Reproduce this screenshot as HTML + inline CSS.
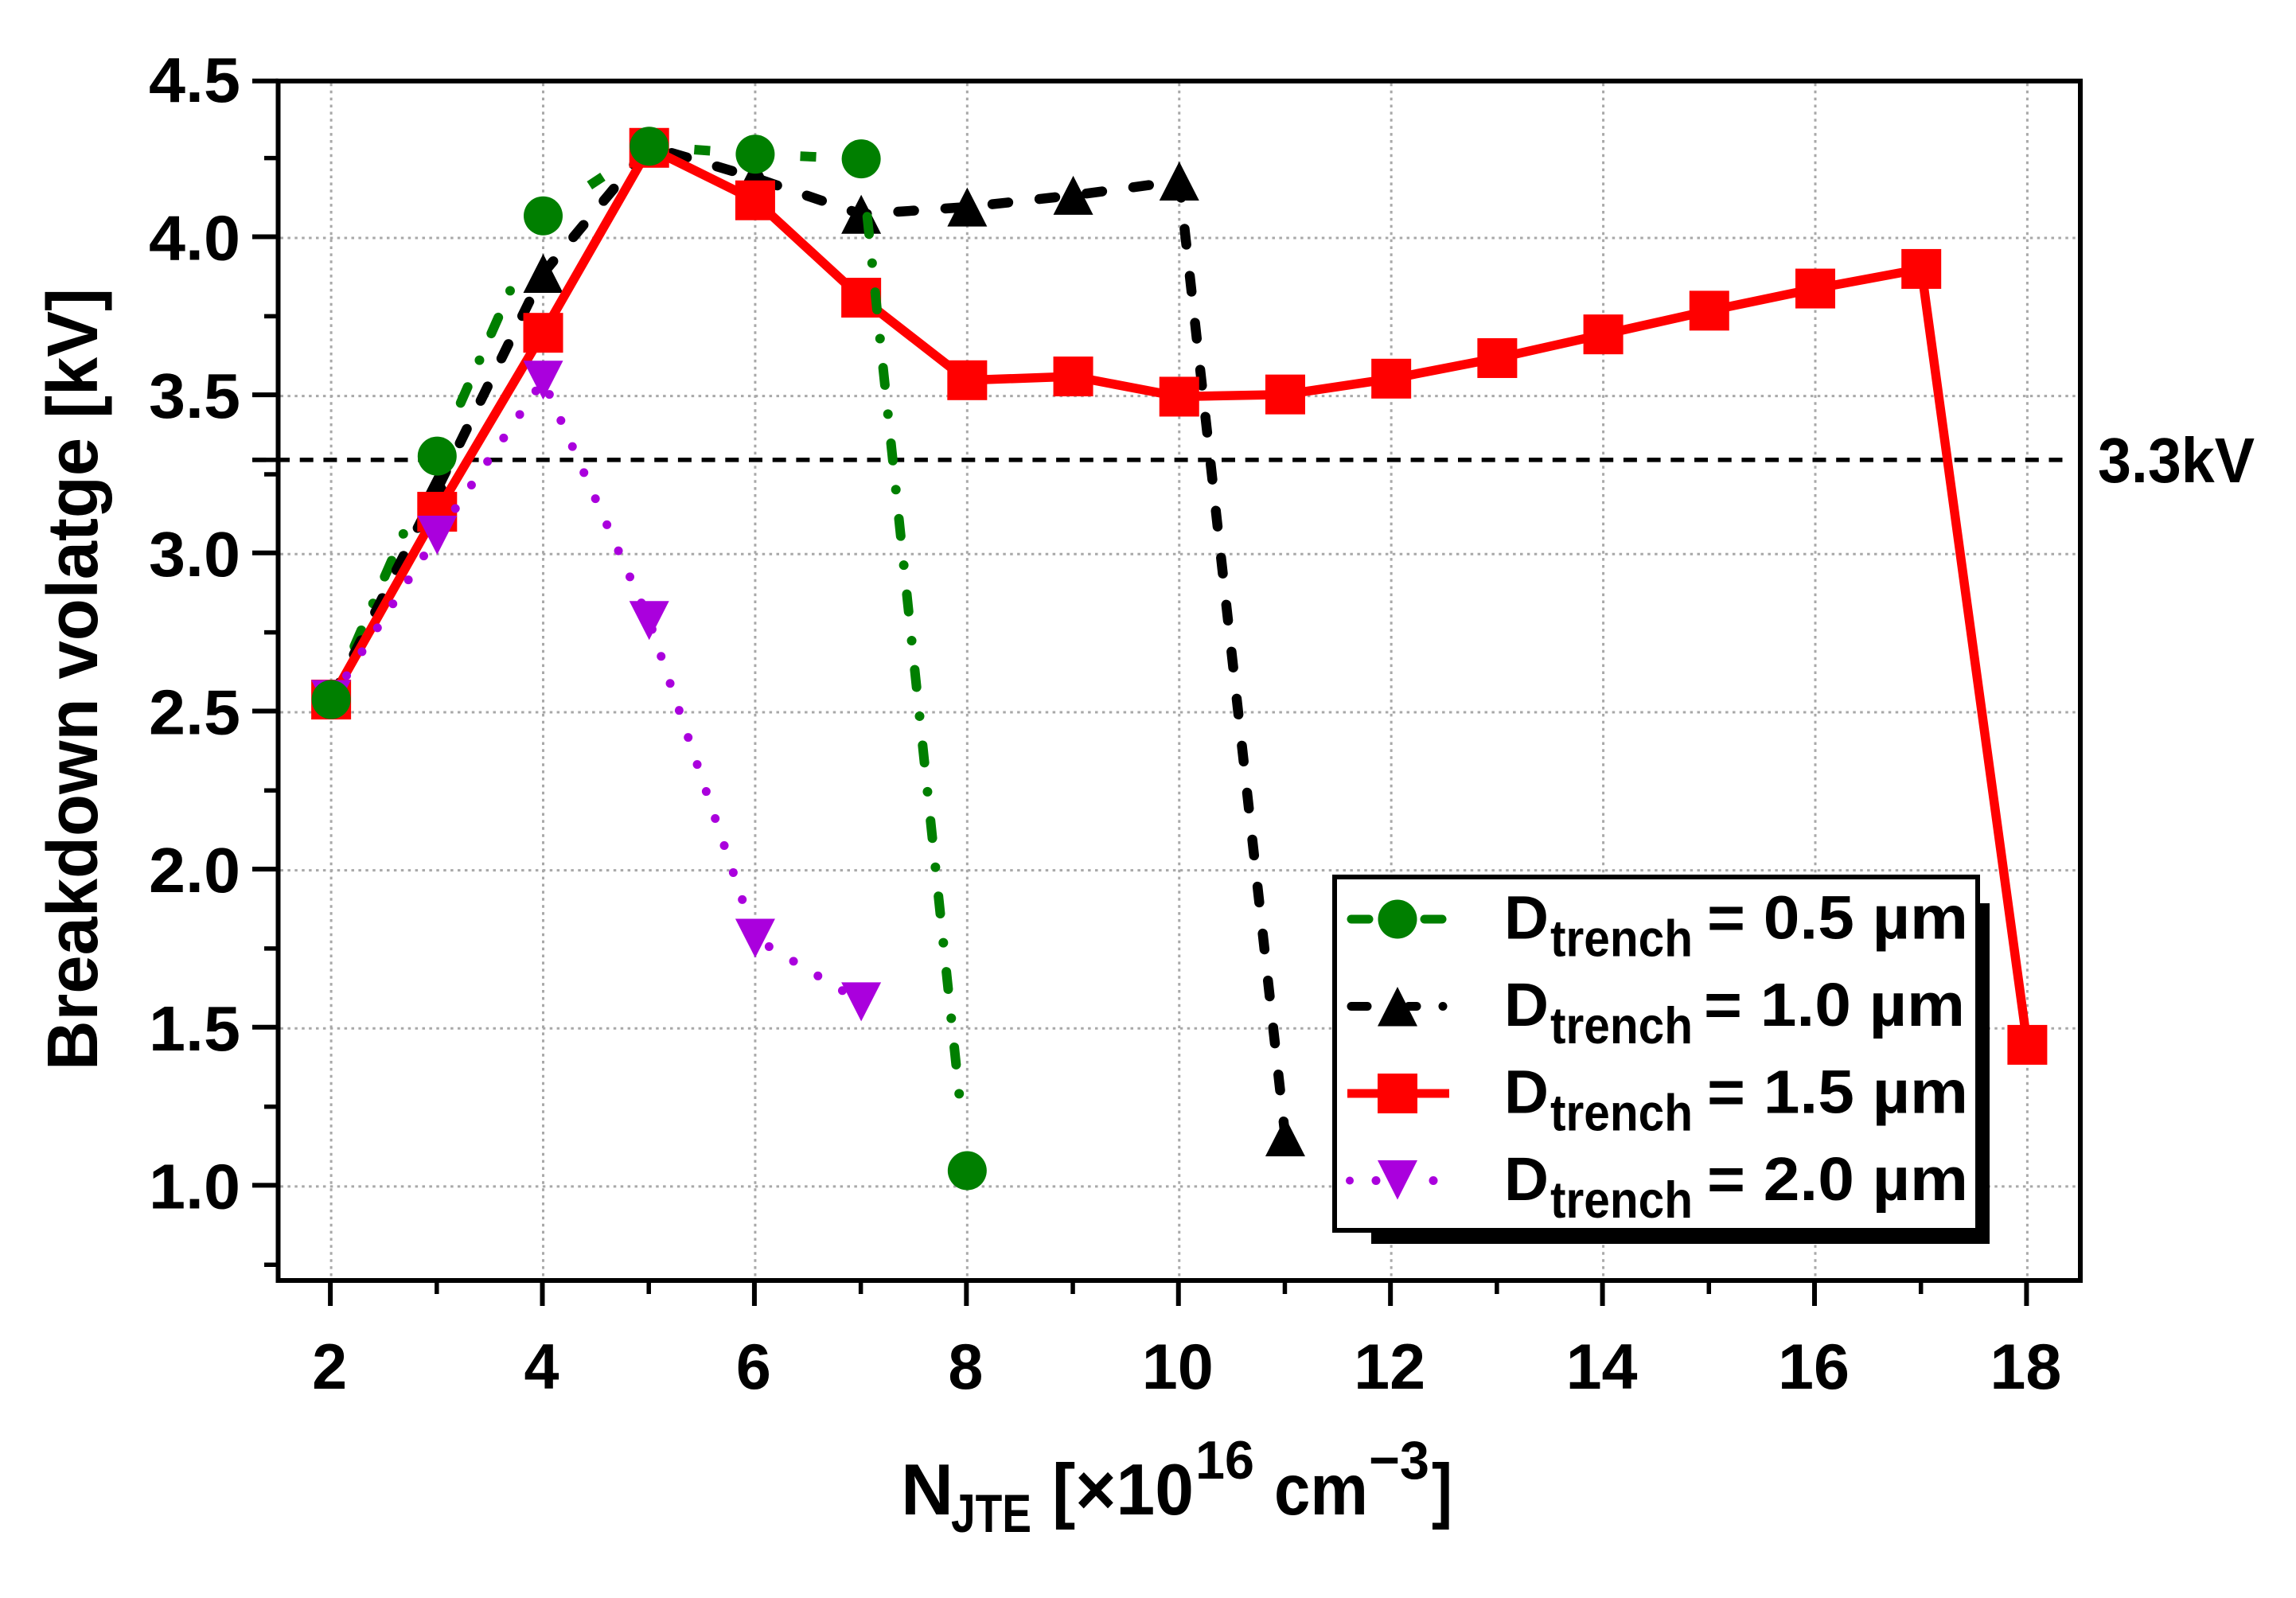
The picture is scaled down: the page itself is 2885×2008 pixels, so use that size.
<!DOCTYPE html>
<html lang="en">
<head>
<meta charset="utf-8">
<title>Breakdown voltage vs NJTE</title>
<style>
html,body{margin:0;padding:0;background:#fff}
svg{display:block}
text{font-family:"Liberation Sans",sans-serif;font-weight:700;fill:#000}
</style>
</head>
<body>
<svg id="chart" xmlns="http://www.w3.org/2000/svg" width="2885" height="2008" viewBox="0 0 2885 2008">
  <rect x="0" y="0" width="2885" height="2008" fill="#fff"/>
  <g id="grid"></g>
  <g id="ref"></g>
  <g id="series"></g>
  <g id="axes"></g>

  <text transform="translate(122,1345) rotate(-90)" x="0" y="0" font-size="90" textLength="983" lengthAdjust="spacingAndGlyphs">Breakdown volatge [kV]</text>

  <g>
    <text x="1132" y="1903" font-size="91" textLength="66" lengthAdjust="spacingAndGlyphs">N</text>
    <text x="1195" y="1925" font-size="68" textLength="101" lengthAdjust="spacingAndGlyphs">JTE</text>
    <text x="1322" y="1903" font-size="91" textLength="178" lengthAdjust="spacingAndGlyphs">[×10</text>
    <text x="1502" y="1858" font-size="68" textLength="74" lengthAdjust="spacingAndGlyphs">16</text>
    <text x="1601" y="1903" font-size="91" textLength="118" lengthAdjust="spacingAndGlyphs">cm</text>
    <text x="1720" y="1858" font-size="68" textLength="76" lengthAdjust="spacingAndGlyphs">−3</text>
    <text x="1799" y="1903" font-size="91" textLength="26" lengthAdjust="spacingAndGlyphs">]</text>
  </g>

  <text x="2636" y="606" font-size="80" textLength="197" lengthAdjust="spacingAndGlyphs">3.3kV</text>

  <g>
    <rect x="1723" y="1135" width="777" height="428" fill="#000"/>
    <rect x="1677" y="1102" width="808" height="444" fill="#fff" stroke="#000" stroke-width="6"/>

    <g>
      <line x1="1698" y1="1155" x2="1720" y2="1155" stroke="#007f00" stroke-width="11" stroke-linecap="round"/>
      <line x1="1790" y1="1155" x2="1812" y2="1155" stroke="#007f00" stroke-width="11" stroke-linecap="round"/>
      <circle cx="1756" cy="1155" r="24.5" fill="#007f00"/>
      <text x="1890" y="1179.5" font-size="77" textLength="56" lengthAdjust="spacingAndGlyphs">D</text>
      <text x="1948" y="1201.5" font-size="65" textLength="179" lengthAdjust="spacingAndGlyphs">trench</text>
      <text x="2145" y="1179.5" font-size="77" textLength="328" lengthAdjust="spacingAndGlyphs">= 0.5 µm</text>
    </g>

    <g>
      <line x1="1698" y1="1264.5" x2="1718" y2="1264.5" stroke="#000" stroke-width="11" stroke-linecap="round"/>
      <line x1="1770" y1="1264.5" x2="1780" y2="1264.5" stroke="#000" stroke-width="11" stroke-linecap="round"/>
      <circle cx="1813" cy="1264.5" r="5.5" fill="#000"/>
      <polygon points="1756,1240 1781,1289.5 1731,1289.5" fill="#000"/>
      <text x="1890" y="1289" font-size="77" textLength="56" lengthAdjust="spacingAndGlyphs">D</text>
      <text x="1948" y="1311" font-size="65" textLength="179" lengthAdjust="spacingAndGlyphs">trench</text>
      <text x="2141" y="1289" font-size="77" textLength="328" lengthAdjust="spacingAndGlyphs">= 1.0 µm</text>
    </g>

    <g>
      <line x1="1693" y1="1374" x2="1821" y2="1374" stroke="#ff0000" stroke-width="11"/>
      <rect x="1731" y="1349" width="50" height="50" fill="#ff0000"/>
      <text x="1890" y="1398.5" font-size="77" textLength="56" lengthAdjust="spacingAndGlyphs">D</text>
      <text x="1948" y="1420.5" font-size="65" textLength="179" lengthAdjust="spacingAndGlyphs">trench</text>
      <text x="2145" y="1398.5" font-size="77" textLength="328" lengthAdjust="spacingAndGlyphs">= 1.5 µm</text>
    </g>

    <g>
      <circle cx="1696" cy="1483.5" r="5" fill="#aa00dd"/>
      <circle cx="1729" cy="1483.5" r="5.5" fill="#aa00dd"/>
      <circle cx="1801" cy="1483.5" r="5.5" fill="#aa00dd"/>
      <polygon points="1731,1458 1781,1458 1756,1507.5" fill="#aa00dd"/>
      <text x="1890" y="1508" font-size="77" textLength="56" lengthAdjust="spacingAndGlyphs">D</text>
      <text x="1948" y="1530" font-size="65" textLength="179" lengthAdjust="spacingAndGlyphs">trench</text>
      <text x="2145" y="1508" font-size="77" textLength="328" lengthAdjust="spacingAndGlyphs">= 2.0 µm</text>
    </g>
  </g>
</svg>

<script>
// ---- chart data ----
const xTickValues = [2, 4, 6, 8, 10, 12, 14, 16, 18];
const xMinorTickValues = [3, 5, 7, 9, 11, 13, 15, 17];
const yTickValues = [1.0, 1.5, 2.0, 2.5, 3.0, 3.5, 4.0, 4.5];
const yTickLabels = ['1.0', '1.5', '2.0', '2.5', '3.0', '3.5', '4.0', '4.5'];
const yMinorTickValues = [0.75, 1.25, 1.75, 2.25, 2.75, 3.25, 3.75, 4.25];
const referenceVoltage = 3.298;

const njte05 = [2, 3, 4, 5, 6, 7, 8];
const bv05 = [2.54, 3.31, 4.07, 4.29, 4.265, 4.25, 1.05];

const njte10 = [2, 3, 4, 5, 6, 7, 8, 9, 10, 11];
const bv10 = [2.54, 3.205, 3.888, 4.29, 4.19, 4.075, 4.098, 4.135, 4.18, 1.157];

const njte15 = [2, 3, 4, 5, 6, 7, 8, 9, 10, 11, 12, 13, 14, 15, 16, 17, 18];
const bv15 = [2.54, 3.134, 3.70, 4.285, 4.119, 3.811, 3.55, 3.562, 3.498, 3.505, 3.555, 3.62, 3.695, 3.77, 3.84, 3.902, 1.448];

const njte20 = [2, 3, 4, 5, 6, 7];
const bv20 = [2.54, 3.06, 3.55, 2.79, 1.785, 1.584];

// ---- axis functions ----
const NS = 'http://www.w3.org/2000/svg';
const plotLeft = 349.5, plotRight = 2614, plotTop = 101.8, plotBottom = 1609;
function X(v) { return plotLeft + (v - 1.5) * (plotRight - plotLeft) / 17; }
function Y(v) { return 299 + (4 - v) * 397.3; }

function make(tag, parent, props) {
  const el = document.createElementNS(NS, tag);
  for (const k in props) el.setAttribute(k, props[k]);
  parent.appendChild(el);
  return el;
}

const gridG = document.getElementById('grid');
const refG = document.getElementById('ref');
const seriesG = document.getElementById('series');
const axesG = document.getElementById('axes');

// ---- grid ----
xTickValues.forEach(function (v) {
  const l = make('line', gridG, {x1: X(v), x2: X(v), y1: plotTop + 3, y2: plotBottom - 3, stroke: '#a8a8a8', 'stroke-width': 3, 'stroke-dasharray': '3.5 5.4'});
  
  
});
yTickValues.forEach(function (v) {
  if (v >= 4.5) return;
  const l = make('line', gridG, {x1: plotLeft + 3, x2: plotRight - 3, y1: Y(v), y2: Y(v), stroke: '#a8a8a8', 'stroke-width': 3, 'stroke-dasharray': '3.5 5.4'});
  
  
});

// ---- 3.3 kV reference ----
const refLine = make('line', refG, {x1: 317.3, x2: 2599, y1: Y(referenceVoltage), y2: Y(referenceVoltage), stroke: '#000', 'stroke-width': 5.5, 'stroke-dasharray': '17 12.7'});


const refStub = make('line', refG, {x1: 317, x2: plotLeft, y1: Y(referenceVoltage), y2: Y(referenceVoltage), stroke: '#000', 'stroke-width': 5.5});



// ---- series helpers ----
function pointsOf(xs, ys) {
  return xs.map(function (x, i) { return [X(x), Y(ys[i])]; });
}
function polylineStr(pts) {
  return pts.map(function (p) { return p[0].toFixed(1) + ',' + p[1].toFixed(1); }).join(' ');
}
function trianglePoints(p, up) {
  const h = 24.5, w = 25;
  if (up) return (p[0]) + ',' + (p[1] - h) + ' ' + (p[0] + w) + ',' + (p[1] + h) + ' ' + (p[0] - w) + ',' + (p[1] + h);
  return (p[0] - w) + ',' + (p[1] - h) + ' ' + (p[0] + w) + ',' + (p[1] - h) + ' ' + (p[0]) + ',' + (p[1] + h);
}

const GREEN = '#007f00', PURPLE = '#aa00dd', RED = '#ff0000';
const pts05 = pointsOf(njte05, bv05);
const pts10 = pointsOf(njte10, bv10);
const pts15 = pointsOf(njte15, bv15);
const pts20 = pointsOf(njte20, bv20);

function drawGreenSegment(i) {
  const a = pts05[i], b = pts05[i + 1];
  const dx = b[0] - a[0], dy = b[1] - a[1];
  const len = Math.hypot(dx, dy);
  const ux = dx / len, uy = dy / len;
  const trim = 70;
  let seg;
  if (len - 2 * trim < 20) {
    const mx = (a[0] + b[0]) / 2, my = (a[1] + b[1]) / 2;
    seg = make('line', seriesG, {x1: mx - ux * 10, y1: my - uy * 10, x2: mx + ux * 10, y2: my + uy * 10, stroke: GREEN, 'stroke-width': 12});
  } else {
    seg = make('line', seriesG, {
      x1: a[0] + ux * trim, y1: a[1] + uy * trim,
      x2: b[0] - ux * trim, y2: b[1] - uy * trim,
      stroke: GREEN, 'stroke-width': 12, 'stroke-linecap': 'round',
      'stroke-dasharray': '22 36.7 0 36.7', 'stroke-dashoffset': 92.4
    });
  }
  
  
}

// green line segments except the last sit under the other series
for (let i = 0; i < pts05.length - 2; i++) drawGreenSegment(i);

// black 1.0 um
const line10 = make('polyline', seriesG, {points: polylineStr(pts10), fill: 'none', stroke: '#000', 'stroke-width': 12.5, 'stroke-linecap': 'round', 'stroke-linejoin': 'round', 'stroke-dasharray': '20 39.4', 'stroke-dashoffset': -4});


pts10.forEach(function (p) {
  const m = make('polygon', seriesG, {points: trianglePoints(p, true), fill: '#000'});
  
  
});

// red 1.5 um
const line15 = make('polyline', seriesG, {points: polylineStr(pts15), fill: 'none', stroke: RED, 'stroke-width': 11.5, 'stroke-linejoin': 'round'});


pts15.forEach(function (p) {
  const m = make('rect', seriesG, {x: p[0] - 25, y: p[1] - 25, width: 50, height: 50, fill: RED});
  
  
});

// purple 2.0 um
const line20 = make('polyline', seriesG, {points: polylineStr(pts20), fill: 'none', stroke: PURPLE, 'stroke-width': 11, 'stroke-linecap': 'round', 'stroke-linejoin': 'round', 'stroke-dasharray': '0 35.8'});


pts20.forEach(function (p) {
  const m = make('polygon', seriesG, {points: trianglePoints(p, false), fill: PURPLE});
  
  
});

// green last segment and markers on top
drawGreenSegment(pts05.length - 2);
pts05.forEach(function (p) {
  const m = make('circle', seriesG, {cx: p[0], cy: p[1], r: 24.5, fill: GREEN});
  
  
});

// ---- axes ----
const frame = make('rect', axesG, {x: plotLeft, y: plotTop, width: plotRight - plotLeft, height: plotBottom - plotTop, fill: 'none', stroke: '#000', 'stroke-width': 6});



xTickValues.forEach(function (v) {
  const t = make('line', axesG, {x1: X(v) - 1, x2: X(v) - 1, y1: plotBottom, y2: 1641, stroke: '#000', 'stroke-width': 6});
  
  
  const s = String(v);
  const lab = make('text', axesG, {x: X(v) - 2, y: 1745, 'font-size': 81, 'text-anchor': 'middle', textLength: s.length > 1 ? 90 : 44, lengthAdjust: 'spacingAndGlyphs'});
  lab.textContent = s;
  
  
});
xMinorTickValues.forEach(function (v) {
  const t = make('line', axesG, {x1: X(v) - 0.5, x2: X(v) - 0.5, y1: plotBottom, y2: 1626, stroke: '#000', 'stroke-width': 5.5});
  
  
});
yTickValues.forEach(function (v, i) {
  const y = Math.max(Y(v) - 1.5, plotTop);
  const t = make('line', axesG, {x1: 317, x2: plotLeft, y1: y, y2: y, stroke: '#000', 'stroke-width': 6});
  
  
  const lab = make('text', axesG, {x: 187, y: Y(v) + 27.5, 'font-size': 80, textLength: 115, lengthAdjust: 'spacingAndGlyphs'});
  lab.textContent = yTickLabels[i];
  
  
});
yMinorTickValues.forEach(function (v) {
  const y = Y(v) - 1;
  const t = make('line', axesG, {x1: 332, x2: plotLeft, y1: y, y2: y, stroke: '#000', 'stroke-width': 5.5});
  
  
});
</script>
</body>
</html>
